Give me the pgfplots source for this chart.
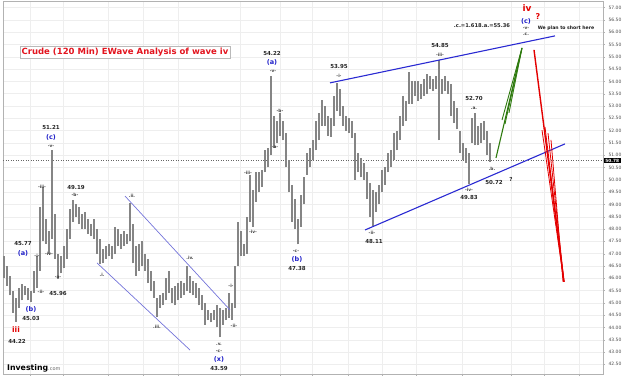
\documentclass[border=0pt]{standalone}
\usepackage{fontspec}
\setmainfont{DejaVu Sans}
\usepackage{pgfplots}
\pgfplotsset{compat=1.18}
\usepackage{pgfplotstable}

\definecolor{barc}{HTML}{858585}
\definecolor{tblue}{HTML}{2A2AD2}
\definecolor{cblue}{HTML}{7474DA}
\definecolor{wblue}{HTML}{1E1EC8}
\definecolor{tgreen}{HTML}{2E7A0E}
\definecolor{tred}{HTML}{E30000}
\definecolor{tit}{HTML}{E3141E}

\pgfplotstableread{
x lo hi
4 46.0 46.9
7 45.7 46.5
10 45.3 46.1
13 44.6 45.5
16 44.22 45.2
19 44.8 45.6
22 45.1 45.77
25 45.3 45.7
28 45.1 45.6
31 45.03 45.5
34 45.4 46.3
37 45.6 46.9
40 46.3 48.9
43 47.5 49.7
46 47.4 48.4
49 47.0 47.9
52 47.6 51.21
55 46.8 48.6
58 45.96 47.0
61 46.2 46.9
64 46.4 47.3
67 46.8 48.0
70 47.6 48.8
73 48.3 49.19
76 48.5 49.0
79 48.2 48.9
82 48.0 48.6
85 48.0 48.7
88 47.8 48.4
91 47.7 48.2
94 47.6 48.4
97 47.0 48.0
100 46.57 47.6
103 46.6 47.2
106 46.8 47.3
109 46.9 47.4
112 46.8 47.3
115 47.0 48.1
118 47.3 48.0
121 47.2 47.8
124 47.3 47.9
127 47.4 47.8
130 47.5 49.05
133 46.6 48.2
136 46.1 47.3
139 46.3 47.4
142 46.5 47.5
145 46.3 47.0
148 45.8 46.8
151 45.5 46.3
154 45.2 45.9
157 44.42 45.2
160 44.8 45.3
163 44.9 45.4
166 45.1 46.0
169 45.4 46.3
172 45.0 45.6
175 44.9 45.7
178 45.1 45.8
181 45.2 45.9
184 45.3 45.8
187 45.5 46.5
190 45.4 46.1
193 45.3 45.9
196 45.2 45.8
199 44.9 45.6
202 44.7 45.3
205 44.1 45.0
208 44.3 44.7
211 44.2 44.6
214 44.3 44.7
217 44.0 44.9
220 43.59 44.8
223 44.1 44.7
226 44.3 44.8
229 44.4 45.4
232 44.3 45.0
235 44.8 46.5
238 46.5 48.3
241 46.9 47.9
244 46.9 47.4
247 47.0 48.5
250 48.3 50.2
253 48.1 49.6
256 49.1 50.3
259 49.5 50.3
262 49.7 50.4
265 50.3 51.2
268 50.5 51.3
271 51.0 54.22
274 51.3 52.6
277 51.5 52.4
280 51.8 52.7
283 51.6 52.4
286 50.5 51.9
289 49.5 50.8
292 48.3 49.8
295 48.0 49.2
298 47.38 48.4
301 48.1 49.4
304 49.0 50.1
307 50.2 51.1
310 50.5 51.3
313 50.8 51.6
316 51.2 52.4
319 51.6 52.7
322 52.2 53.25
325 52.2 53.0
328 51.8 52.6
331 51.75 52.5
334 52.2 53.4
337 52.8 53.95
340 52.6 53.7
343 52.2 53.0
346 52.0 52.6
349 51.9 52.5
352 51.7 52.4
355 50.0 51.9
358 50.3 51.1
361 50.1 50.9
364 50.0 50.7
367 49.2 50.3
370 48.5 49.85
373 48.11 49.6
376 48.7 49.5
379 49.0 49.8
382 49.5 50.4
385 49.8 50.5
388 50.3 51.1
391 50.5 51.2
394 50.8 51.9
397 51.2 52.0
400 51.6 52.6
403 52.2 53.4
406 52.4 53.2
409 53.1 54.4
412 53.1 54.0
415 53.4 54.0
418 53.2 54.0
421 53.3 53.9
424 53.4 54.1
427 53.5 54.3
430 53.7 54.2
433 53.6 54.1
436 53.7 54.2
439 51.6 54.85
442 53.5 54.1
445 53.6 54.2
448 53.5 54.0
451 52.6 53.9
454 52.3 53.2
457 52.05 52.9
460 51.1 52.0
463 50.8 51.5
466 50.7 51.3
469 49.83 51.1
472 51.5 52.5
475 51.4 52.70
478 51.4 52.2
481 51.5 52.3
484 51.6 52.4
487 51.0 52.0
490 50.72 51.5
}\bars

\newcommand{\lab}[4]{\node[#3] at (axis cs:#1,{42.5+(364.3-#2)/24.6}) {#4};}

\begin{document}
\begin{tikzpicture}[
  num/.style={font=\fontsize{5.5}{6}\selectfont\bfseries, text=black!85, inner sep=0pt},
  wv/.style={font=\fontsize{4.3}{5}\selectfont\bfseries, text=black!75, inner sep=0pt},
  par/.style={font=\fontsize{6.5}{7}\selectfont\bfseries, text=wblue, inner sep=0pt},
]
\useasboundingbox (-3pt,-6pt) rectangle (621pt,374pt);
\begin{axis}[
  at={(0pt,0pt)}, anchor=south west,
  scale only axis, width=600pt, height=373pt,
  xmin=3, xmax=603, ymin=42.106, ymax=57.268,
  clip=false,
  axis line style={gray!60},
  xtick={30,63,108,143,178,240,280,312,348,382,416,462,511,544,579},
  xticklabels={},
  xtick pos=bottom,
  ytick={42.5,43,...,57},
  ytick pos=right, yticklabel pos=right,
  /pgf/number format/assume math mode=true,
  yticklabel style={font=\fontsize{4.5}{5}\selectfont, text=black!70,
    /pgf/number format/.cd, fixed, fixed zerofill, precision=2},
  tick align=outside, major tick length=2pt, tick style={gray!60},
  grid=major, grid style={gray!13, line width=0.4pt},
]
% current price line
\addplot[dotted, black!60, line width=0.5pt] coordinates {(3,50.78) (603,50.78)};
% OHLC bars (low to high)
\addplot[draw=none, mark=none, error bars/.cd, y dir=plus, y explicit, error mark=none,
  error bar style={draw=barc, line width=1.8pt}]
  table[x=x, y=lo, y error expr=\thisrow{hi}-\thisrow{lo}] {\bars};
% left falling channel
\addplot[cblue, line width=0.7pt] coordinates {(125,49.34) (230,44.71)};
\addplot[cblue, line width=0.7pt] coordinates {(97,46.62) (190,43.08)};
% main trend lines
\addplot[tblue, line width=1.1pt] coordinates {(330,53.94) (555,55.85)};
\addplot[tblue, line width=1.1pt] coordinates {(365,47.96) (565,51.46)};
% green projection
\addplot[tgreen, line width=1.1pt] coordinates {(496,50.89) (522,55.36)};
\addplot[tgreen, line width=0.9pt] coordinates {(502,52.43) (522,55.36)};
\addplot[tgreen, line width=0.9pt] coordinates {(505,52.27) (521,55.20)};
\addplot[tgreen, line width=0.9pt] coordinates {(509,52.72) (522,55.36)};
% red projection
\addplot[tred, line width=1.4pt] coordinates {(534,55.28) (564,45.85)};
\addplot[tred, line width=0.8pt] coordinates {(542,52.02) (564,45.85)};
\addplot[tred, line width=0.8pt] coordinates {(545,52.15) (564,45.85)};
\addplot[tred, line width=0.8pt] coordinates {(548,51.90) (564,45.85)};
\addplot[tred, line width=0.8pt] coordinates {(551,51.62) (563,45.85)};

% title
\node[draw=gray!55, fill=white, inner sep=1.6pt, text=tit,
  font=\fontsize{8.5}{9}\selectfont\bfseries] at (axis cs:125,{42.5+(364.3-52)/24.6}) {Crude (120 Min) EWave Analysis of wave iv};

% labels
\lab{272}{54}{num}{54.22}
\lab{272}{62}{par}{(a)}
\lab{273}{71}{wv}{-v-}
\lab{280}{111}{wv}{-b-}
\lab{275}{147}{wv}{-a-}
\lab{51}{128}{num}{51.21}
\lab{51}{137}{par}{(c)}
\lab{51}{146}{wv}{-v-}
\lab{42}{187}{wv}{-iii-}
\lab{76}{188}{num}{49.19}
\lab{75}{195}{wv}{-b-}
\lab{248}{173}{wv}{-iii-}
\lab{253}{232}{wv}{-iv-}
\lab{339}{67}{num}{53.95}
\lab{339}{76}{wv}{-i-}
\lab{440}{46}{num}{54.85}
\lab{440}{55}{wv}{-iii-}
\lab{474}{99}{num}{52.70}
\lab{474}{108}{wv}{.a.}
\lab{492}{169}{wv}{.b.}
\lab{494}{182}{num}{50.72}
\lab{511}{179}{num}{?}
\lab{482}{26}{font=\fontsize{5.2}{6}\selectfont\bfseries, text=black!85, inner sep=0pt}{.c.=1.618.a.=55.36}
\lab{527}{8}{font=\fontsize{9}{10}\selectfont\bfseries, text=tred, inner sep=0pt}{iv}
\lab{538}{17}{font=\fontsize{8}{9}\selectfont\bfseries, text=tred, inner sep=0pt}{?}
\lab{526}{21}{par}{(c)}
\lab{526}{28}{wv}{-v-}
\lab{526}{34}{wv}{.c.}
\lab{566}{28}{font=\fontsize{4.6}{5}\selectfont\bfseries, text=black!90, inner sep=0pt}{We plan to short here}
\lab{23}{244}{num}{45.77}
\lab{23}{253}{par}{(a)}
\lab{37}{256}{wv}{-i-}
\lab{49}{254}{wv}{-iv-}
\lab{58}{277}{wv}{-a-}
\lab{58}{293}{num}{45.96}
\lab{41}{292}{wv}{-ii-}
\lab{31}{309}{par}{(b)}
\lab{31}{318}{num}{45.03}
\lab{16}{330}{font=\fontsize{7.5}{8}\selectfont\bfseries, text=tred, inner sep=0pt}{iii}
\lab{17}{341}{num}{44.22}
\lab{132}{196}{wv}{.ii.}
\lab{102}{275}{wv}{.i.}
\lab{157}{327}{wv}{.iii.}
\lab{190}{258}{wv}{.iv.}
\lab{231}{286}{wv}{-i-}
\lab{234}{326}{wv}{-ii-}
\lab{219}{344}{wv}{.v.}
\lab{219}{351}{wv}{-c-}
\lab{219}{359}{par}{(x)}
\lab{219}{368}{num}{43.59}
\lab{296}{251}{wv}{-c-}
\lab{297}{259}{par}{(b)}
\lab{297}{268}{num}{47.38}
\lab{372}{233}{wv}{-ii-}
\lab{374}{241}{num}{48.11}
\lab{469}{190}{wv}{-iv-}
\lab{469}{197}{num}{49.83}
% logo
\node[anchor=west, inner sep=0pt] at (axis cs:7,{42.5+(364.3-368)/24.6})
  {\fontsize{7.8}{8}\selectfont\bfseries Investing\fontsize{5}{6}\selectfont\mdseries\textcolor{black!60}{.com}};
% current price box
\node[anchor=west, fill=black, text=white, inner sep=0.8pt, minimum width=17pt,
  font=\fontsize{4.3}{5}\selectfont\bfseries] at (axis cs:603.5,50.78) {50.78};
\end{axis}
\end{tikzpicture}
\end{document}
